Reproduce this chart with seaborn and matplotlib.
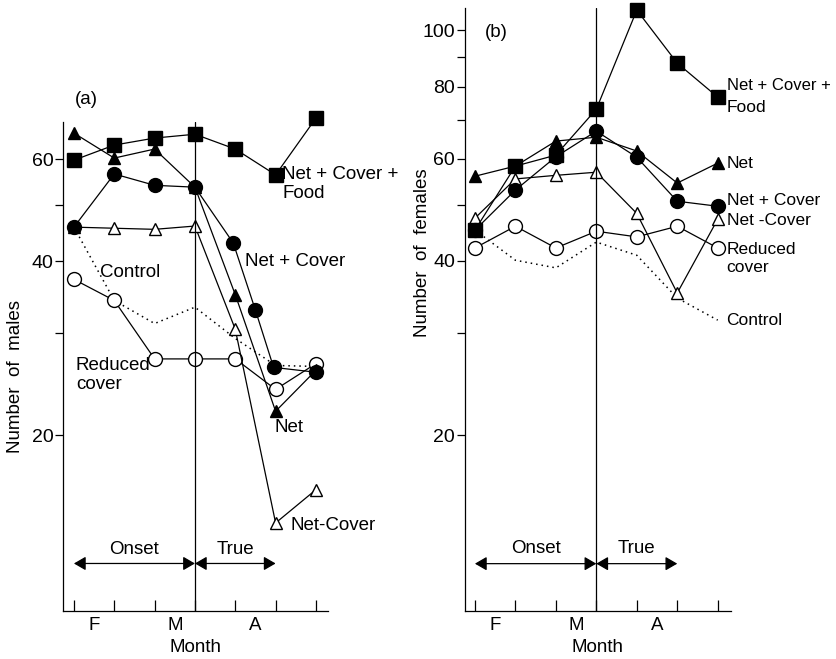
import numpy as np
import pandas as pd
import seaborn as sns
import matplotlib.pyplot as plt
from matplotlib.ticker import FixedLocator, FixedFormatter, NullFormatter

# week positions (ticks) and month labels
weeks = [0, 1, 2, 3, 4, 5, 6]
month_pos = [0.5, 2.5, 4.5]
month_labels = ['F', 'M', 'A']

# (a) males
males_food = [59.8, 63.5, 65.3, 66.3, 62.5, 56.4, 70.7]
males_net = [66.6, 60.3, 62.5, 53.7, 35.0, 22.0, 25.9]
males_net_cover_wk = [0, 1, 2, 3, 3.95, 4.5, 4.95, 6]
males_net_cover = [45.8, 56.6, 54.1, 53.7, 43.0, 32.9, 26.2, 25.7]
males_net_minus_cover = [45.8, 45.6, 45.4, 46.0, 30.5, 14.1, 16.1]
males_reduced = [37.2, 34.2, 27.1, 27.1, 27.1, 24.0, 26.6]
males_control = [45.8, 34.2, 31.2, 33.3, 29.4, 26.4, 26.3]

# (b) females
females_food = [45.2, 58.3, 60.9, 73.1, 108.4, 87.8, 76.7]
females_net = [56.0, 58.3, 64.4, 65.4, 61.9, 54.5, 59.0]
females_net_cover = [45.2, 53.0, 60.5, 67.0, 60.4, 50.7, 49.7]
females_net_minus_cover = [47.4, 55.4, 56.2, 56.9, 48.3, 35.2, 47.2]
females_reduced = [42.1, 45.9, 42.1, 45.0, 44.0, 45.9, 42.1]
females_control = [45.2, 40.1, 38.9, 43.1, 40.9, 34.5, 31.6]

sns.set_style('ticks')
plt.rcParams['font.family'] = ['Liberation Sans', 'DejaVu Sans']
plt.rcParams['font.size'] = 13
for key in ['text.color', 'axes.labelcolor', 'xtick.color', 'ytick.color', 'axes.edgecolor']:
    plt.rcParams[key] = 'black'

fig = plt.figure(figsize=(8.36, 6.59), dpi=100)
ax_a = fig.add_axes([0.0754, 0.0728, 0.317, 0.742])
ax_b = fig.add_axes([0.556, 0.0728, 0.318, 0.915])

filled = dict(color='black', markerfacecolor='black', markeredgecolor='black')
hollow = dict(color='black', markerfacecolor='white', markeredgecolor='black')
LBL = 13.5


#=====================================================================================================
def draw_series(ax, x, y, marker, style, ms=9, ls='-'):
    sns.lineplot(x=x, y=y, ax=ax, marker=marker, markersize=ms, linewidth=0.9,
                 linestyle=ls, estimator=None, sort=False, clip_on=False,
                 markeredgewidth=1.0, **style)


def draw_control(ax, y):
    sns.lineplot(x=weeks, y=y, ax=ax, color='black', linewidth=1.1,
                 linestyle=(0, (1, 2.6)), estimator=None, sort=False, clip_on=False)


def format_axis(ax, ylim, xlim, major, minor, ylabel, label_xy):
    ax.set_yscale('log')
    ax.set_ylim(*ylim)
    ax.set_xlim(*xlim)
    ax.yaxis.set_major_locator(FixedLocator(major))
    ax.yaxis.set_major_formatter(FixedFormatter([str(m) for m in major]))
    ax.yaxis.set_minor_locator(FixedLocator(minor))
    ax.yaxis.set_minor_formatter(NullFormatter())
    ax.tick_params(axis='y', which='both', direction='out', length=6, width=0.9, pad=1, labelsize=14)
    ax.set_xticks(weeks, labels=[''] * len(weeks))
    ax.set_xticks(month_pos, labels=month_labels, minor=True)
    ax.tick_params(axis='x', which='major', direction='in', length=8, width=0.9)
    ax.tick_params(axis='x', which='minor', length=0, pad=4, labelsize=LBL)
    ax.set_xlabel('Month', fontsize=LBL, labelpad=4)
    ax.set_ylabel(ylabel, fontsize=LBL)
    ax.yaxis.set_label_coords(*label_xy)
    sns.despine(ax=ax)
    for s in ['left', 'bottom']:
        ax.spines[s].set_linewidth(0.9)
    ax.axvline(3, color='black', linewidth=0.9)


def phase_arrows(ax, y_arrow, y_text, true_end):
    head = '<|-|>,head_length=0.55,head_width=0.32'
    ax.annotate('', xy=(3, y_arrow), xytext=(0, y_arrow),
                arrowprops=dict(arrowstyle=head, color='black', lw=0.9, shrinkA=0, shrinkB=0))
    ax.annotate('', xy=(true_end, y_arrow), xytext=(3, y_arrow),
                arrowprops=dict(arrowstyle=head, color='black', lw=0.9, shrinkA=0, shrinkB=0))
    ax.text(1.5, y_text, 'Onset', ha='center', va='bottom', fontsize=LBL)
    ax.text((3 + true_end) / 2, y_text, 'True', ha='center', va='bottom', fontsize=LBL)


def label(ax, x, y, s, size=LBL):
    ax.text(x, y, s, ha='left', va='center', fontsize=size)


# ---- panel (a)
draw_control(ax_a, males_control)
draw_series(ax_a, weeks, males_reduced, 'o', hollow, ms=10)
draw_series(ax_a, weeks, males_net_minus_cover, '^', hollow)
draw_series(ax_a, males_net_cover_wk, males_net_cover, 'o', filled, ms=10)
draw_series(ax_a, weeks, males_net, '^', filled)
draw_series(ax_a, weeks, males_food, 's', filled, ms=9.5)

format_axis(ax_a, (9.93, 69.6), (-0.27, 6.3), [20, 40, 60], [30, 50],
            'Number  of  males', (-0.147, 0.48))
phase_arrows(ax_a, 12.0, 12.25, 5)

label(ax_a, 0.02, 76.0, '(a)')
label(ax_a, 5.16, 56.4, 'Net + Cover +')
label(ax_a, 5.16, 52.4, 'Food')
label(ax_a, 4.25, 39.9, 'Net + Cover')
label(ax_a, 0.64, 38.3, 'Control')
label(ax_a, 0.05, 26.4, 'Reduced')
label(ax_a, 0.05, 24.5, 'cover')
label(ax_a, 4.98, 20.6, 'Net')
label(ax_a, 5.38, 13.95, 'Net-Cover')

# ---- panel (b)
draw_control(ax_b, females_control)
draw_series(ax_b, weeks, females_reduced, 'o', hollow, ms=10)
draw_series(ax_b, weeks, females_net_minus_cover, '^', hollow)
draw_series(ax_b, weeks, females_net_cover, 'o', filled, ms=10)
draw_series(ax_b, weeks, females_net, '^', filled)
draw_series(ax_b, weeks, females_food, 's', filled, ms=9.5)

format_axis(ax_b, (9.94, 109.3), (-0.25, 6.32), [20, 40, 60, 80, 100], [30, 50, 70, 90],
            'Number  of  females', (-0.128, 0.595))
phase_arrows(ax_b, 12.0, 12.3, 5)

label(ax_b, 0.25, 99.3, '(b)')
label(ax_b, 6.22, 80.4, 'Net + Cover +', size=12)
label(ax_b, 6.22, 73.7, 'Food', size=12.5)
label(ax_b, 6.22, 59.0, 'Net', size=12.5)
label(ax_b, 6.22, 50.9, 'Net + Cover', size=12.5)
label(ax_b, 6.22, 47.0, 'Net -Cover', size=12.5)
label(ax_b, 6.22, 41.9, 'Reduced', size=12.5)
label(ax_b, 6.22, 39.0, 'cover', size=12.5)
label(ax_b, 6.22, 31.6, 'Control', size=12.5)

fig.savefig('out.png', dpi=100)
